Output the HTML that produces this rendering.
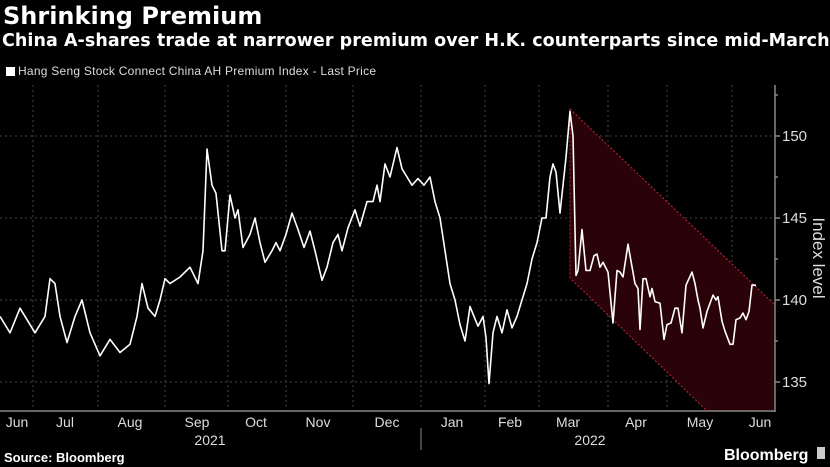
<!DOCTYPE html>
<html><head><meta charset="utf-8"><style>
html,body{margin:0;padding:0;background:#000;width:830px;height:467px;overflow:hidden}
body{font-family:"Liberation Sans",sans-serif;color:#fff;position:relative}
.t1{position:absolute;left:3px;top:2px;font-family:"DejaVu Sans",sans-serif;font-size:24px;font-weight:bold;white-space:nowrap}
.t2{position:absolute;left:2px;top:31px;font-family:"DejaVu Sans",sans-serif;font-size:17.5px;letter-spacing:0.05px;font-weight:bold;white-space:nowrap}
.leg{position:absolute;left:6px;top:64px;font-size:12px;color:#ddd;letter-spacing:0.25px}
.leg span{display:inline-block;width:9px;height:9px;background:#fff;margin-right:3px;vertical-align:-1px}
</style></head><body>
<div class="t1">Shrinking Premium</div>
<div class="t2">China A-shares trade at narrower premium over H.K. counterparts since mid-March</div>
<div class="leg"><span></span>Hang Seng Stock Connect China AH Premium Index - Last Price</div>
<svg width="830" height="467" style="position:absolute;left:0;top:0" font-family="Liberation Sans, sans-serif">
<g stroke="#444" stroke-dasharray="2,3" stroke-width="1">
<line x1="0" y1="136" x2="775" y2="136"/><line x1="0" y1="218" x2="775" y2="218"/>
<line x1="0" y1="300" x2="775" y2="300"/><line x1="0" y1="382" x2="775" y2="382"/>
<line x1="33" y1="85" x2="33" y2="411"/><line x1="98" y1="85" x2="98" y2="411"/>
<line x1="165" y1="85" x2="165" y2="411"/><line x1="228" y1="85" x2="228" y2="411"/>
<line x1="286" y1="85" x2="286" y2="411"/><line x1="353" y1="85" x2="353" y2="411"/>
<line x1="421" y1="85" x2="421" y2="411"/><line x1="485" y1="85" x2="485" y2="411"/>
<line x1="539" y1="85" x2="539" y2="411"/><line x1="608" y1="85" x2="608" y2="411"/>
<line x1="667" y1="85" x2="667" y2="411"/><line x1="732" y1="85" x2="732" y2="411"/>
</g>
<polygon points="570,109 775,305 775,411 707,411 570,278" fill="#2a0309" stroke="#c0283c" stroke-dasharray="2,2" stroke-width="1"/>
<polyline id="ln" fill="none" stroke="#fff" stroke-width="1.6" stroke-linejoin="round"/>
<g stroke="#888" stroke-width="1.5">
<line x1="775" y1="85" x2="775" y2="412"/><line x1="0" y1="411" x2="775" y2="411"/>
<line x1="775" y1="136" x2="780" y2="136"/><line x1="775" y1="218" x2="780" y2="218"/>
<line x1="775" y1="300" x2="780" y2="300"/><line x1="775" y1="382" x2="780" y2="382"/>
<line x1="775" y1="177" x2="778" y2="177"/><line x1="775" y1="259" x2="778" y2="259"/>
<line x1="775" y1="341" x2="778" y2="341"/><line x1="775" y1="95" x2="778" y2="95"/>
<line x1="421" y1="428" x2="421" y2="450" stroke-width="1"/>
</g>
<g fill="#ddd" font-size="15">
<text x="782" y="141">150</text><text x="782" y="223">145</text>
<text x="782" y="305">140</text><text x="782" y="387">135</text>
</g>
<text transform="translate(813,258) rotate(90)" text-anchor="middle" fill="#ddd" font-size="17">Index level</text>
<g fill="#ddd" font-size="14" text-anchor="middle">
<text x="17" y="427">Jun</text><text x="65" y="427">Jul</text><text x="130" y="427">Aug</text>
<text x="197" y="427">Sep</text><text x="256" y="427">Oct</text><text x="318" y="427">Nov</text>
<text x="387" y="427">Dec</text><text x="452" y="427">Jan</text><text x="510" y="427">Feb</text>
<text x="568" y="427">Mar</text><text x="636" y="427">Apr</text><text x="700" y="427">May</text>
<text x="760" y="427">Jun</text>
<text x="210" y="445">2021</text><text x="590" y="445">2022</text>
</g>
<text x="4" y="462" fill="#fff" font-size="13" font-weight="bold">Source: Bloomberg</text>
<text x="724" y="460" fill="#fff" font-size="16" font-weight="bold">Bloomberg</text>
<rect x="817" y="447" width="8" height="12" fill="#ccc"/>
</svg>
<script>
var d=[0,139,10,138,20,139.5,35,138,45,139,50,141.3,55,141,60,139,67,137.4,75,139,82,140,90,138,100,136.6,110,137.6,120,136.8,130,137.3,137,139,142,141,148,139.5,155,139,160,140,165,141.3,170,141,180,141.4,190,142,198,141,203,143,207,149.2,212,147,216,146.5,222,143,225,143,230,146.4,235,145,238,145.5,243,143.2,250,144,255,145,260,143.5,265,142.3,272,143,276,143.5,280,143,286,144,292,145.3,298,144.3,304,143.2,310,144.2,315,143,322,141.2,327,142,333,143.5,338,144,342,143,348,144.4,355,145.5,360,144.5,367,146,373,146,377,147,380,146,385,148.3,390,147.5,397,149.3,402,148,407,147.5,412,147,418,147.4,424,147,430,147.5,435,146,440,145,445,143,450,141,455,140,460,138.5,465,137.5,470,139.6,478,138.4,483,139,486,137.7,489,134.9,493,138,497,139,502,138,507,139.4,512,138.3,517,139,522,140,527,141,532,142.5,537,143.5,542,145,546,145,550,147.5,553,148.3,556,147.8,560,145.3,566,148.7,570,151.5,573,150,576,141.5,578,141.8,582,144.3,586,141.8,590,141.8,594,142.7,597,142.8,600,142,603,142.3,608,141.7,613,138.6,617,141.8,620,141.7,623,141.4,628,143.4,635,141,638,140.7,640,138.2,643,141.3,646,141.3,650,140.2,652,140.7,655,139.9,660,139.8,664,137.6,667,138.5,671,138.6,675,139.5,678,139.5,682,138,686,140.9,692,141.7,695,141,698,140,700,139.5,703,138.3,707,139.3,713,140.3,716,140,718,140.2,722,138.7,725,138.1,730,137.3,733,137.3,736,138.8,740,138.9,743,139.2,746,138.8,749,139.3,752,140.9,756,140.9];
var p=[];for(var i=0;i<d.length;i+=2)p.push(d[i]+","+(300-(d[i+1]-140)*16.4).toFixed(1));
document.getElementById("ln").setAttribute("points",p.join(" "));
</script>
</body></html>
